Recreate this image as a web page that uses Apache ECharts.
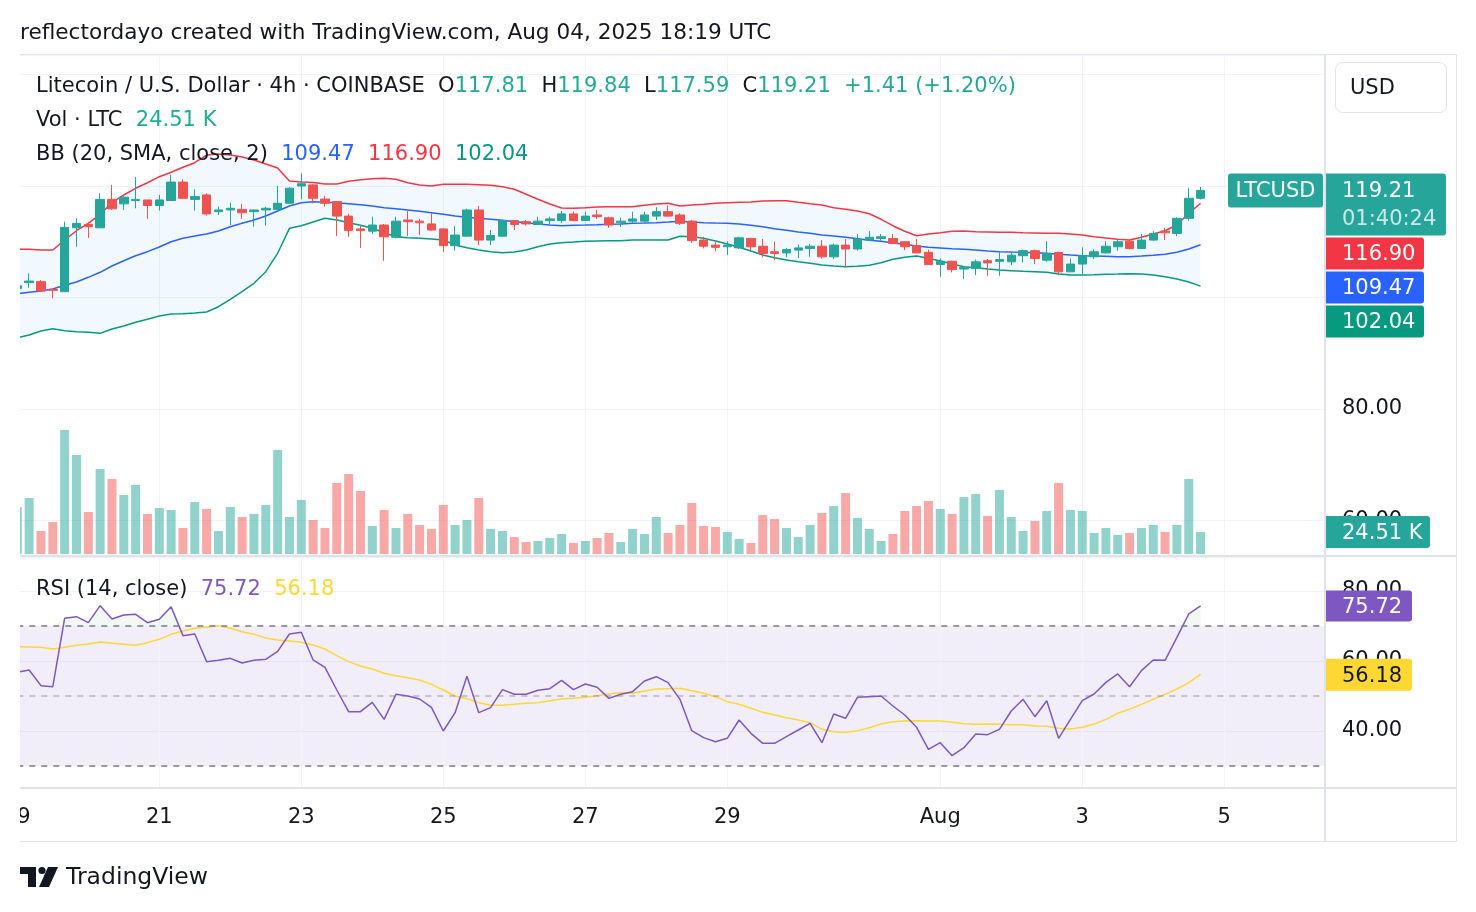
<!DOCTYPE html>
<html>
<head>
<meta charset="utf-8">
<title>LTCUSD 4h</title>
<script src="https://cdn.jsdelivr.net/npm/echarts@6/dist/echarts.min.js"></script>
<style>
  html, body { margin: 0; padding: 0; background: #fff; }
  #chart { width: 1476px; height: 912px; }
</style>
</head>
<body>
<div id="chart"></div>
<script>
// ==================== data (4h candles, Jul 19 00:00 -> Aug 4 16:00) ====================
const opens = [
  101.6, 102.66, 102.84, 101.46, 101.04, 112.5, 113.1, 112.5, 117.6, 116.8,
  117.4, 117.5, 116.5, 117.4, 120.7, 117.6, 118.4, 115.4, 115.7, 115.8,
  115.4, 115.7, 115.8, 116.9, 120.0, 120.2, 117.66, 117.2, 114.6, 112.3,
  111.9, 113.0, 110.8, 113.9, 113.7, 113.2, 112.3, 109.3, 111.0, 115.7,
  110.3, 111.0, 113.8, 113.6, 113.1, 113.8, 113.8, 115.0, 113.8, 114.8,
  114.3, 113.4, 113.7, 113.7, 114.6, 115.4, 114.8, 113.7, 110.3, 109.4,
  109.1, 108.9, 110.6, 109.2, 108.2, 108.0, 108.5, 108.8, 109.2, 107.3,
  109.4, 108.7, 110.3, 110.6, 110.6, 110.0, 109.3, 108.1, 105.9, 106.5,
  105.1, 105.2, 106.6, 106.5, 106.4, 107.5, 108.4, 106.7, 108.1, 104.6,
  106.0, 107.3, 108.0, 109.1, 110.1, 108.8, 110.3, 111.9, 111.5, 114.2,
  117.81
]
const closes = [
  102.1, 102.95, 101.16, 101.28, 112.58, 113.3, 112.7, 117.6, 115.9, 118.0,
  117.6, 116.5, 117.5, 120.7, 117.8, 118.1, 115.0, 115.7, 116.0, 115.2,
  115.7, 116.0, 116.9, 119.6, 120.4, 117.8, 116.89, 114.6, 112.0, 112.0,
  113.0, 110.9, 113.7, 113.6, 113.4, 112.1, 109.3, 111.2, 115.7, 110.3,
  111.1, 113.8, 113.1, 113.2, 113.7, 114.1, 115.0, 113.8, 114.6, 114.5,
  113.0, 113.7, 114.1, 114.8, 115.4, 114.6, 113.3, 110.2, 109.2, 109.0,
  109.4, 110.7, 109.1, 107.9, 107.9, 108.6, 108.9, 109.2, 107.3, 109.4,
  108.7, 110.5, 110.8, 110.9, 109.7, 109.1, 108.0, 105.9, 106.5, 105.0,
  105.4, 106.4, 106.2, 106.8, 107.6, 108.4, 107.0, 107.9, 104.6, 106.0,
  107.5, 108.2, 109.2, 110.0, 108.8, 110.3, 111.5, 111.6, 114.2, 117.8,
  119.21
]
const lows = [
  101.3, 101.76, 101.04, 99.85, 100.98, 109.1, 110.7, 112.5, 115.7, 115.7,
  116.0, 114.1, 115.6, 117.3, 117.7, 115.6, 114.7, 114.8, 113.0, 114.1,
  112.7, 112.9, 115.7, 116.8, 117.6, 116.9, 116.3, 111.0, 110.9, 108.9,
  111.4, 106.6, 110.6, 111.0, 111.2, 112.0, 108.2, 108.4, 110.9, 109.4,
  109.4, 111.0, 112.1, 112.9, 113.1, 113.0, 113.4, 113.7, 113.7, 114.1,
  112.5, 112.7, 113.3, 113.3, 113.9, 114.5, 113.0, 109.8, 108.8, 108.3,
  107.6, 108.7, 108.5, 107.2, 106.7, 107.3, 107.1, 107.3, 107.0, 106.9,
  105.4, 108.4, 110.1, 110.2, 109.6, 108.5, 108.0, 105.9, 103.7, 104.5,
  103.3, 104.0, 103.9, 103.9, 105.8, 106.3, 106.0, 106.4, 104.0, 104.6,
  104.0, 106.9, 107.9, 108.4, 108.6, 108.8, 110.2, 110.3, 111.0, 113.8,
  117.59
]
const highs = [
  102.6, 104.33, 103.13, 101.58, 113.6, 114.2, 113.5, 118.7, 120.2, 118.4,
  121.6, 117.5, 118.4, 122.0, 121.2, 119.4, 118.7, 116.3, 117.0, 116.8,
  115.8, 116.3, 120.0, 119.8, 122.3, 120.3, 118.2, 117.2, 115.0, 112.9,
  114.5, 113.2, 114.5, 115.5, 114.1, 115.1, 112.4, 112.8, 115.9, 116.4,
  112.1, 113.9, 113.9, 113.9, 114.5, 114.5, 115.5, 115.4, 115.4, 115.7,
  114.5, 114.3, 115.4, 115.4, 116.2, 116.5, 115.1, 113.9, 110.9, 110.1,
  110.1, 110.9, 110.7, 110.5, 110.0, 108.9, 109.5, 109.6, 110.3, 109.7,
  110.5, 111.4, 111.9, 111.4, 111.4, 110.1, 110.5, 108.6, 107.0, 106.6,
  105.5, 106.8, 106.9, 108.3, 108.3, 108.6, 108.6, 110.1, 108.2, 107.0,
  109.0, 108.6, 110.1, 110.4, 110.3, 111.4, 111.9, 112.5, 114.4, 119.6,
  119.84
]
// volume, thousands of LTC
const volumes = [
  52.4, 62.4, 25.6, 35.6, 138.1, 110.3, 46.8, 94.7, 83.6, 65.7,
  76.9, 44.6, 51.2, 49.0, 29.0, 57.9, 50.1, 25.6, 52.4, 41.2,
  44.6, 54.6, 115.9, 41.2, 60.2, 37.9, 29.0, 79.1, 89.1, 70.2,
  31.2, 49.0, 29.0, 44.6, 32.3, 27.9, 54.6, 32.3, 37.9, 62.4,
  27.9, 25.6, 18.9, 13.4, 14.5, 17.8, 22.3, 12.3, 14.5, 17.8,
  23.4, 13.4, 27.9, 22.3, 41.2, 23.4, 32.3, 56.8, 31.2, 30.1,
  24.5, 16.7, 12.3, 43.4, 39.0, 29.0, 18.9, 32.3, 45.7, 53.5,
  67.9, 40.1, 27.9, 14.5, 22.3, 47.9, 53.5, 59.0, 50.1, 44.6,
  63.5, 66.8, 42.3, 71.3, 41.2, 25.6, 36.8, 47.9, 79.1, 49.0,
  47.9, 23.4, 29.0, 21.2, 23.4, 29.0, 32.3, 24.5, 32.3, 83.6,
  24.51
]
const bbUpper = [
  108.65, 108.65, 108.52, 108.52, 110.31, 111.98, 113.31, 114.92, 117.01, 118.39,
  119.59, 120.59, 121.67, 122.46, 123.36, 124.18, 125.56, 125.74, 125.56, 125.2,
  124.67, 123.95, 123.23, 120.9, 120.72, 120.63, 120.36, 120.36, 120.84, 121.13,
  121.31, 121.38, 121.2, 120.59, 120.18, 120.0, 120.31, 120.31, 120.31, 120.23,
  120.13, 119.88, 119.41, 118.51, 117.62, 116.77, 116.05, 116.0, 116.11, 116.23,
  116.29, 116.29, 116.29, 116.54, 116.77, 116.9, 116.41, 116.59, 116.72, 116.9,
  117.01, 117.08, 117.13, 117.31, 117.36, 117.36, 117.08, 116.83, 116.59, 116.11,
  115.82, 115.52, 115.03, 114.03, 112.88, 111.88, 111.09, 111.39, 111.62, 111.88,
  111.93, 111.8, 111.75, 111.7, 111.7, 111.62, 111.57, 111.52, 111.52, 111.39,
  111.21, 110.91, 110.67, 110.44, 110.31, 110.8, 111.39, 111.98, 113.0, 115.1,
  116.90
]
const bbBasis = [
  100.68, 100.93, 101.16, 101.52, 102.19, 102.78, 103.62, 104.52, 105.65, 106.6,
  107.5, 108.22, 109.06, 110.01, 110.62, 111.03, 111.39, 111.93, 112.7, 113.31,
  113.9, 114.62, 115.52, 116.41, 117.01, 117.19, 117.08, 117.01, 116.83, 116.65,
  116.41, 116.11, 115.93, 115.7, 115.46, 115.21, 114.92, 114.62, 114.39, 114.21,
  114.03, 113.85, 113.6, 113.42, 113.18, 113.0, 112.88, 112.95, 113.0, 113.06,
  113.13, 113.18, 113.31, 113.36, 113.42, 113.54, 113.67, 113.54, 113.42, 113.36,
  113.31, 113.18, 112.95, 112.7, 112.34, 112.05, 111.75, 111.52, 111.21, 111.03,
  110.8, 110.55, 110.26, 110.08, 109.78, 109.55, 109.24, 109.01, 108.88, 108.75,
  108.65, 108.52, 108.34, 108.22, 108.16, 108.11, 108.04, 107.93, 107.75, 107.62,
  107.5, 107.44, 107.39, 107.32, 107.32, 107.44, 107.57, 107.75, 108.11, 108.7,
  109.47
]
const bbLower = [
  92.79, 93.27, 93.99, 94.4, 94.04, 93.86, 93.75, 93.57, 94.35, 94.88,
  95.55, 96.09, 96.68, 97.04, 97.09, 97.22, 97.4, 98.35, 99.68, 101.04,
  102.55, 104.63, 107.93, 112.41, 112.88, 113.54, 114.21, 113.9, 113.42, 112.95,
  112.41, 111.62, 110.91, 110.73, 110.62, 110.49, 110.31, 109.42, 108.93, 108.52,
  108.22, 108.04, 108.16, 108.52, 109.11, 109.6, 109.83, 109.95, 110.08, 110.13,
  110.18, 110.18, 110.31, 110.31, 110.31, 110.31, 110.98, 110.91, 110.62, 110.13,
  109.6, 109.01, 108.34, 107.62, 107.14, 106.73, 106.42, 106.13, 105.83, 105.65,
  105.53, 105.6, 105.78, 106.24, 106.85, 107.21, 107.44, 107.03, 106.55, 106.01,
  105.53, 105.35, 105.11, 104.93, 104.81, 104.7, 104.63, 104.52, 104.21, 104.03,
  104.03, 104.09, 104.16, 104.21, 104.27, 104.21, 104.03, 103.73, 103.32, 102.78,
  102.04
]
const rsi = [
  56.76, 57.43, 52.95, 52.66, 72.19, 72.66, 70.95, 75.81, 72.0, 73.14,
  73.33, 70.95, 71.9, 75.52, 67.24, 67.71, 59.81, 60.19, 60.76, 59.43,
  60.19, 60.47, 62.76, 67.71, 68.19, 60.29, 58.19, 51.71, 45.52, 45.52,
  48.19, 43.33, 50.48, 50.0, 49.14, 46.76, 40.0, 45.24, 55.62, 45.24,
  46.67, 51.81, 50.48, 50.48, 51.62, 52.09, 54.47, 51.81, 53.43, 52.48,
  49.33, 50.5, 51.24, 54.28, 55.52, 53.81, 49.05, 40.09, 38.1, 36.95,
  37.9, 43.14, 39.33, 36.48, 36.48, 38.38, 40.29, 42.19, 36.66, 44.85,
  43.62, 49.62, 49.81, 50.0, 47.14, 44.57, 41.05, 34.76, 36.66, 32.95,
  35.24, 39.14, 38.95, 40.48, 45.71, 49.05, 44.09, 48.66, 37.9, 43.33,
  48.66, 50.57, 53.9, 56.29, 52.66, 57.24, 60.29, 60.19, 66.76, 73.43,
  75.72
]
const rsiMa = [
  64.1, 64.0, 63.9, 63.43, 63.9, 64.48, 64.86, 65.43, 65.05, 64.76,
  64.48, 65.24, 66.19, 67.62, 68.57, 69.33, 69.62, 70.1, 69.33, 68.38,
  67.62, 66.57, 66.0, 65.71, 65.33, 64.57, 63.43, 61.52, 59.81, 58.57,
  57.71, 56.48, 55.81, 55.24, 54.57, 53.33, 51.71, 50.0, 49.24, 48.1,
  47.33, 47.33, 47.62, 47.9, 48.1, 48.67, 49.14, 49.33, 49.62, 50.1,
  50.57, 51.0, 50.76, 51.43, 52.0, 52.1, 52.19, 51.52, 50.76, 49.81,
  48.38, 47.62, 46.48, 45.33, 44.57, 43.81, 43.14, 42.38, 40.48, 39.81,
  39.62, 40.1, 40.95, 42.0, 42.67, 42.86, 42.95, 42.86, 42.86, 42.48,
  42.1, 41.9, 42.0, 41.9, 41.81, 41.81, 41.43, 41.33, 40.76, 40.57,
  41.05, 42.0, 43.33, 45.05, 46.19, 47.62, 49.05, 50.48, 52.0, 53.81,
  56.18
]
// time axis: candle index of each date label
const tickIndex = [0, 12, 24, 36, 48, 60, 78, 90, 102]
const tickLabels = ['19', '21', '23', '25', '27', '29', 'Aug', '3', '5']

// ==================== style ====================
const FONT = 'DejaVu Sans'
const FS = 21
const TEXT = '#131722'
const UP = '#26a69a'
const DOWN = '#ef5350'
const GRID_LINE = '#f0f3fa'
const BORDER = '#e0e3eb'

const chart = echarts.init(document.getElementById('chart'))

const idx = closes.map((_, i) => i)
const pair = (arr) => arr.map((v, i) => [i, v])

const L = 17.3
const R = 152
const X_MAX = 110.43

const xBase = {
  type: 'value', min: 0, max: X_MAX, interval: 6,
  axisLine: { show: false }, axisTick: { show: false }, splitLine: { show: false },
  axisLabel: { show: false },
}
const vLines = {
  silent: true, symbol: 'none', z: 1,
  label: { show: false },
  lineStyle: { color: GRID_LINE, width: 1, type: 'solid' },
  data: tickIndex.map((v) => ({ xAxis: v })),
}
const yLabel = {
  margin: 18, fontSize: FS, color: TEXT, fontFamily: FONT,
  padding: [5, 0, 0, 0],
  showMinLabel: false, showMaxLabel: false,
  formatter: (v) => v.toFixed(2),
}

chart.setOption({
  animation: false,
  textStyle: { fontFamily: FONT },
  grid: [
    { left: L, right: R, top: 55, height: 500 },
    { left: L, right: R, top: 404, height: 150 },
    { left: L, right: R, top: 557, height: 230 },
  ],
  xAxis: [
    { ...xBase, gridIndex: 0 },
    { ...xBase, gridIndex: 1 },
    {
      ...xBase, gridIndex: 2,
      axisLabel: {
        show: true, margin: 20, fontSize: FS, color: TEXT, fontFamily: FONT,
        showMaxLabel: false,
        formatter: (v) => {
          const k = tickIndex.indexOf(Math.round(v))
          return k >= 0 ? tickLabels[k] : ''
        },
      },
    },
  ],
  yAxis: [
    {
      type: 'value', gridIndex: 0, position: 'right', min: 53.81, max: 143.5, splitNumber: 5,
      axisLine: { show: false }, axisTick: { show: false },
      splitLine: { lineStyle: { color: GRID_LINE } },
      axisLabel: yLabel,
    },
    { type: 'value', gridIndex: 1, min: 0, max: 167.1, show: false },
    {
      type: 'value', gridIndex: 2, position: 'right', min: 24, max: 89.71, splitNumber: 3,
      axisLine: { show: false }, axisTick: { show: false },
      splitLine: { lineStyle: { color: GRID_LINE } },
      axisLabel: yLabel,
    },
  ],
  series: [
    // Bollinger band fill, drawn through the axes
    {
      type: 'custom', xAxisIndex: 0, yAxisIndex: 0, silent: true, z: 1, clip: true,
      data: [[0, 100]],
      renderItem: (params, api) => {
        const top = idx.map((i) => api.coord([i, bbUpper[i]]))
        const bot = idx.slice().reverse().map((i) => api.coord([i, bbLower[i]]))
        return {
          type: 'polygon',
          shape: { points: top.concat(bot) },
          style: { fill: 'rgba(33,150,243,0.06)' },
        }
      },
    },
    {
      name: 'BB upper', type: 'line', xAxisIndex: 0, yAxisIndex: 0, data: pair(bbUpper),
      symbol: 'none', lineStyle: { color: '#f23645', width: 1.5 }, z: 2,
      markLine: vLines,
    },
    {
      name: 'BB basis', type: 'line', xAxisIndex: 0, yAxisIndex: 0, data: pair(bbBasis),
      symbol: 'none', lineStyle: { color: '#2962ff', width: 1.5 }, z: 2,
    },
    {
      name: 'BB lower', type: 'line', xAxisIndex: 0, yAxisIndex: 0, data: pair(bbLower),
      symbol: 'none', lineStyle: { color: '#089981', width: 1.5 }, z: 2,
    },
    {
      name: 'LTCUSD', type: 'candlestick', xAxisIndex: 0, yAxisIndex: 0, barWidth: 9, z: 3,
      data: idx.map((i) => [i, opens[i], closes[i], lows[i], highs[i]]),
      itemStyle: { color: UP, color0: DOWN, borderColor: UP, borderColor0: DOWN, borderWidth: 1 },
    },
    {
      name: 'Volume', type: 'bar', xAxisIndex: 1, yAxisIndex: 1, barWidth: 9,
      data: idx.map((i) => ({
        value: [i, volumes[i]],
        itemStyle: { color: closes[i] >= opens[i] ? 'rgba(38,166,154,0.5)' : 'rgba(239,83,80,0.5)' },
      })),
    },
    // RSI pane
    {
      type: 'line', xAxisIndex: 2, yAxisIndex: 2, silent: true, z: 1,
      data: idx.map((i) => [i, Math.max(rsi[i], 70)]), symbol: 'none',
      lineStyle: { opacity: 0 }, areaStyle: { origin: 70, color: 'rgba(76,175,80,0.1)' },
      markArea: {
        silent: true,
        itemStyle: { color: 'rgba(126,87,194,0.1)' },
        data: [[{ yAxis: 70 }, { yAxis: 30 }]],
      },
      markLine: vLines,
    },
    {
      name: 'RSI', type: 'line', xAxisIndex: 2, yAxisIndex: 2, data: pair(rsi),
      symbol: 'none', lineStyle: { color: '#7e57c2', width: 1.5 }, z: 3,
      markLine: {
        silent: true, symbol: 'none', label: { show: false },
        data: [
          { yAxis: 70, lineStyle: { color: '#787b86', type: [6, 6], width: 1.5 } },
          { yAxis: 50, lineStyle: { color: 'rgba(120,123,134,0.5)', type: [6, 6], width: 1.5 } },
          { yAxis: 30, lineStyle: { color: '#787b86', type: [6, 6], width: 1.5 } },
        ],
      },
    },
    {
      name: 'RSI MA', type: 'line', xAxisIndex: 2, yAxisIndex: 2, data: pair(rsiMa),
      symbol: 'none', lineStyle: { color: '#fdd835', width: 1.5 }, z: 2,
    },
  ],
})

// ==================== overlay: frame, legends, price tags ====================
const line = (x1, y1, x2, y2, w) => ({
  type: 'line', z: 50, silent: true,
  shape: { x1, y1, x2, y2 }, style: { stroke: BORDER, lineWidth: w || 1 },
})
const txt = (x, y, rich, text, size) => ({
  type: 'text', x, y: y + 2, z: 60, silent: true,
  style: { text, rich, fontFamily: FONT, fontSize: size || FS, fill: TEXT, verticalAlign: 'middle' },
})
const rs = (fill) => ({ fill, fontFamily: FONT, fontSize: FS })

const legendRich = {
  d: rs(TEXT), g: rs('#22ab94'), b: rs('#2962ff'), r: rs('#f23645'),
  g2: rs('#089981'), p: rs('#7e57c2'), y: rs('#fdd835'),
}

const yPx = (axis, v) => chart.convertToPixel({ yAxisIndex: axis }, v)

function tag(x, top, w, h, fill, texts) {
  const els = [{
    type: 'rect', z: 70, silent: true,
    shape: { x, y: top, width: w, height: h, r: [0, 3, 3, 0] }, style: { fill },
  }]
  texts.forEach((t, k) => {
    els.push({
      type: 'text', z: 71, silent: true, x: x + 16,
      y: top + h / texts.length / 2 + k * 28 + (texts.length > 1 ? 3 : 1.5),
      style: { text: t[0], fill: t[1], fontFamily: FONT, fontSize: FS, verticalAlign: 'middle' },
    })
  })
  return els
}

const AX = 1326
const closeY = yPx(0, closes[closes.length - 1])
let bottom = closeY - 17 + 62
const stacked = (y, h) => {
  const top = Math.max(y - h / 2, bottom + 2)
  bottom = top + h
  return top
}
const topUpper = stacked(yPx(0, bbUpper[100]), 32)
const topBasis = stacked(yPx(0, bbBasis[100]), 32)
const topLower = stacked(yPx(0, bbLower[100]), 32)

const elements = [
  { type: 'rect', z: 40, silent: true, shape: { x: 0, y: 54, width: 20, height: 790 }, style: { fill: '#fff' } },
  line(20, 54.5, 1456, 54.5),
  line(20, 841.5, 1456, 841.5),
  line(1456.5, 54, 1456.5, 842),
  line(1325, 54, 1325, 842, 2),
  line(20, 556, 1456, 556, 2),
  line(20, 788, 1456, 788, 2),
  txt(20, 31, null, 'reflectordayo created with TradingView.com, Aug 04, 2025 18:19 UTC', 21.6),
  txt(36, 85, legendRich,
    '{d|Litecoin / U.S. Dollar · 4h · COINBASE  O}{g|117.81}{d|  H}{g|119.84}{d|  L}{g|117.59}{d|  C}{g|119.21}{g|  +1.41 (+1.20%)}'),
  txt(36, 119, legendRich, '{d|Vol · LTC}{g|  24.51 K}'),
  txt(36, 153, legendRich, '{d|BB (20, SMA, close, 2)}{b|  109.47}{r|  116.90}{g2|  102.04}'),
  txt(36, 588, legendRich, '{d|RSI (14, close)}{p|  75.72}{y|  56.18}'),
  {
    type: 'rect', z: 60, silent: true,
    shape: { x: 1335.5, y: 62.5, width: 111, height: 50, r: 7 },
    style: { fill: '#fff', stroke: BORDER, lineWidth: 1 },
  },
  txt(1350, 87, null, 'USD', FS),
  // TradingView logo
  { type: 'rect', z: 60, silent: true, shape: { x: 20, y: 867, width: 16, height: 7 }, style: { fill: TEXT } },
  { type: 'rect', z: 60, silent: true, shape: { x: 28, y: 867, width: 8, height: 20 }, style: { fill: TEXT } },
  { type: 'circle', z: 60, silent: true, shape: { cx: 42, cy: 870.5, r: 3.6 }, style: { fill: TEXT } },
  { type: 'polygon', z: 60, silent: true, shape: { points: [[48, 867], [58, 867], [49, 887], [39, 887]] }, style: { fill: TEXT } },
  txt(66, 876, null, 'TradingView', 23.5),
  // price scale tags
  {
    type: 'rect', z: 70, silent: true,
    shape: { x: 1228, y: closeY - 17, width: 95, height: 34, r: 3 }, style: { fill: UP },
  },
  {
    type: 'text', z: 71, silent: true, x: 1275.5, y: closeY + 1.5,
    style: { text: 'LTCUSD', fill: '#fff', fontFamily: FONT, fontSize: FS, align: 'center', verticalAlign: 'middle' },
  },
  ...tag(AX, closeY - 17, 120, 62, UP, [[closes[100].toFixed(2), '#fff'], ['01:40:24', 'rgba(255,255,255,0.75)']]),
  ...tag(AX, topUpper, 98, 32, '#f23645', [[bbUpper[100].toFixed(2), '#fff']]),
  ...tag(AX, topBasis, 98, 32, '#2962ff', [[bbBasis[100].toFixed(2), '#fff']]),
  ...tag(AX, topLower, 98, 32, '#089981', [[bbLower[100].toFixed(2), '#fff']]),
  ...tag(AX, yPx(1, volumes[100]) - 16, 104, 32, UP, [['24.51 K', '#fff']]),
  ...tag(AX, yPx(2, rsi[100]) - 15.5, 86, 31, '#7e57c2', [[rsi[100].toFixed(2), '#fff']]),
  ...tag(AX, yPx(2, rsiMa[100]) - 15.5, 86, 32, '#fdd835', [[rsiMa[100].toFixed(2), TEXT]]),
]

chart.setOption({ graphic: { elements } })

window.addEventListener('resize', () => chart.resize())
</script>
</body>
</html>
